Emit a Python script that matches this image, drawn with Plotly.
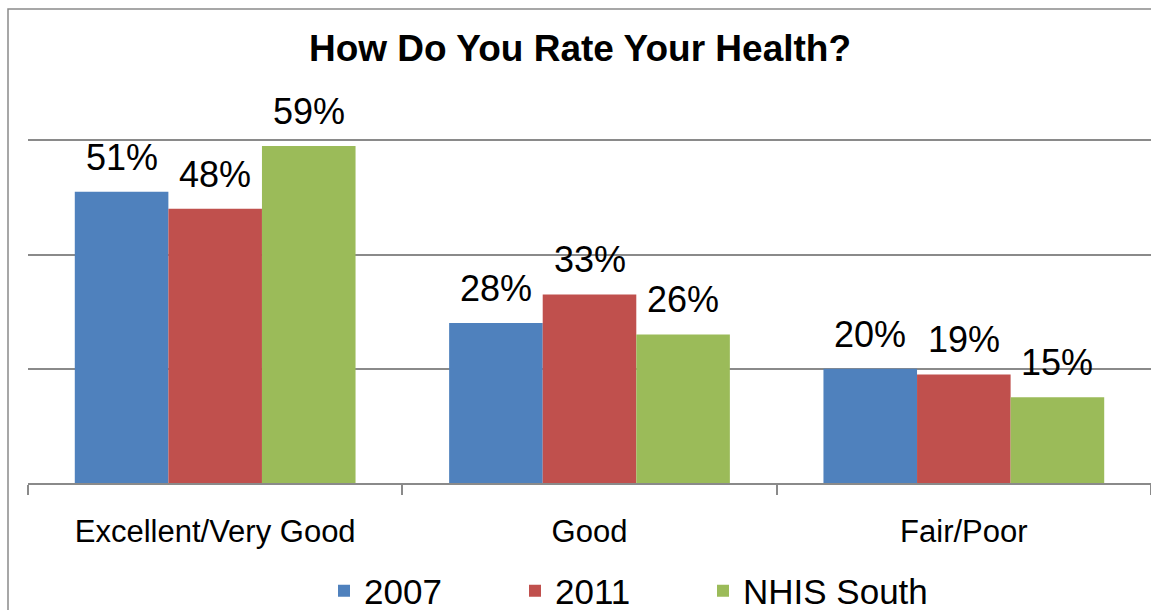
import plotly.graph_objects as go

categories = ["Excellent/Very Good", "Good", "Fair/Poor"]
series_names = ["2007", "2011", "NHIS South"]
values_2007 = [51, 28, 20]
values_2011 = [48, 33, 19]
values_nhis = [59, 26, 15]
colors = ["#4F81BD", "#C0504D", "#9BBB59"]
title_text = "How Do You Rate Your Health?"

W, H = 1151, 610
ML, MR, MT, MB = 28, 0, 26, 127
PW = W - ML - MR
PH = H - MT - MB

legend_ids = ["legend", "legend2", "legend3"]
legend_px = [324, 515, 703]

fig = go.Figure()
all_vals = [values_2007, values_2011, values_nhis]
for name, vals, col, lid in zip(series_names, all_vals, colors, legend_ids):
    fig.add_trace(go.Bar(name=name, x=categories, y=vals, marker=dict(color=col, line=dict(width=0)),
                         hoverinfo="skip", legend=lid))

annotations = []
offsets = [-0.25, 0.0, 0.25]
for vals, off in zip(all_vals, offsets):
    for i, v in enumerate(vals):
        annotations.append(dict(x=i + off, y=v, xref="x", yref="y", text=f"{v}%", showarrow=False,
                                yanchor="bottom", yshift=12,
                                font=dict(family="Liberation Sans, Arial", size=36, color="#000")))

legend_style = dict(orientation="h", xanchor="left", y=(483 - 591) / PH, yanchor="middle",
                    font=dict(family="Liberation Sans, Arial", size=35, color="#000"),
                    itemclick=False, itemdoubleclick=False, bgcolor="rgba(0,0,0,0)")
legends = {lid: dict(x=(px - ML) / PW, **legend_style) for lid, px in zip(legend_ids, legend_px)}

fig.update_layout(
    width=W, height=H,
    margin=dict(l=ML, r=MR, t=MT, b=MB, autoexpand=False),
    paper_bgcolor="white", plot_bgcolor="white",
    barmode="group", bargap=0.25, bargroupgap=0,
    title=dict(text=f"<b>{title_text}</b>", x=580 / W, xref="container", xanchor="center",
               y=1 - 48 / H, yref="container", yanchor="middle",
               font=dict(family="Liberation Sans, Arial", size=37, color="#000")),
    xaxis=dict(showline=True, linecolor="#8a8a8a", linewidth=1.5, ticks="outside", tickson="boundaries",
               ticklen=10, tickcolor="#8a8a8a", tickwidth=1.5, ticklabelstandoff=20,
               tickfont=dict(family="Liberation Sans, Arial", size=31, color="#000"),
               showgrid=False),
    yaxis=dict(range=[0, 80], dtick=20, showticklabels=False, showgrid=True, gridcolor="#8a8a8a",
               gridwidth=1.5, zeroline=False, showline=False, ticks=""),
    annotations=annotations,
    shapes=[dict(type="rect", xref="paper", yref="paper", x0=(8 - ML) / PW, x1=1.05,
                 y0=(483 - 9) / PH, y1=-0.4, line=dict(color="#8a8a8a", width=1.5), layer="below")],
    showlegend=True,
    **legends,
)

fig.write_html("out.html", config={"displayModeBar": False},
               post_script="document.body.style.margin='0';document.body.style.overflow='hidden';")
